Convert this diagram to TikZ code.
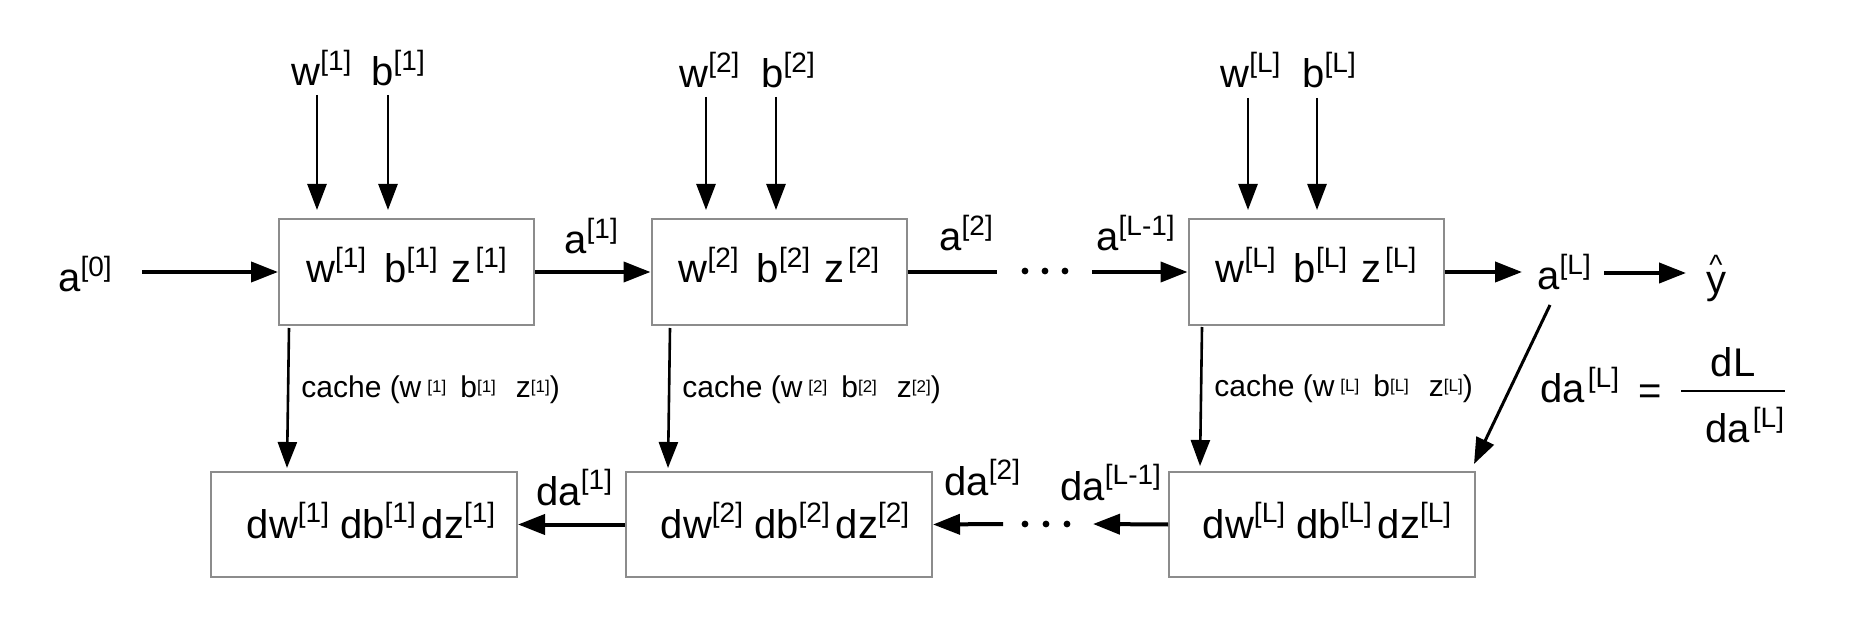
\documentclass[tikz,border=0pt]{standalone}
\usepackage{fontspec}
\setmainfont{Liberation Sans}
\usepackage{graphicx}
\usetikzlibrary{arrows.meta}
\definecolor{boxgray}{RGB}{140,140,140}
\newcommand\sps[1]{\raisebox{7.8pt}{\fontsize{14}{14}\selectfont #1}}
\newcommand\csps[1]{\raisebox{2.9pt}{\fontsize{8.5}{8.5}\selectfont #1}}
\tikzset{
  fbox/.style={draw=boxgray, line width=1pt, minimum width=127.5pt, minimum height=53pt, inner sep=0pt},
  gbox/.style={draw=boxgray, line width=1pt, minimum width=153pt, minimum height=52.5pt, inner sep=0pt},
  txt/.style={inner sep=0pt, font=\fontsize{20}{24}\selectfont},
  ctxt/.style={inner sep=0pt, font=\fontsize{15}{18}\selectfont},
  thinarr/.style={line width=1.3pt, -{Triangle[length=13pt,width=9.5pt]}},
  thickarr/.style={line width=2pt, -{Triangle[length=13.5pt,width=10pt]}},
  thickline/.style={line width=2pt},
  dotfill/.style={fill=black},
}
\begin{document}
\begin{tikzpicture}[x=0.5pt,y=-0.5pt]
\path[use as bounding box, fill=white] (0,0) rectangle (1866,624);

% forward boxes
\node[fbox] (f1) at (406.5,272) {};
\node[fbox] (f2) at (779,272) {};
\node[fbox] (fL) at (1316,272) {};
% backward boxes
\node[gbox] (g1) at (364,524.5) {};
\node[gbox] (g2) at (779,524.5) {};
\node[gbox] (gL) at (1322,524.5) {};

% box texts
\node[txt, anchor=base] (t1) at ([yshift=-5.5pt]f1.center) {w\sps{[1]}\hspace{9pt}b\sps{[1]}\hspace{7pt}z\hspace{2pt}\sps{[1]}};
\node[txt, anchor=base] (t2) at ([yshift=-5.5pt]f2.center) {w\sps{[2]}\hspace{9pt}b\sps{[2]}\hspace{7pt}z\hspace{2pt}\sps{[2]}};
\node[txt, anchor=base] (tL) at ([yshift=-5.5pt]fL.center) {w\sps{[L]}\hspace{9pt}b\sps{[L]}\hspace{7pt}z\hspace{2pt}\sps{[L]}};
\node[txt, anchor=base] (u1) at ([xshift=3.5pt,yshift=-6.75pt]g1.center) {dw\sps{[1]} db\sps{[1]}\hspace{3pt}dz\sps{[1]}};
\node[txt, anchor=base] (u2) at ([xshift=3pt,yshift=-6.75pt]g2.center) {dw\sps{[2]} db\sps{[2]}\hspace{3pt}dz\sps{[2]}};
\node[txt, anchor=base] (uL) at ([xshift=2.5pt,yshift=-6.75pt]gL.center) {dw\sps{[L]} db\sps{[L]}\hspace{3pt}dz\sps{[L]}};

% top parameter labels
\node[txt, anchor=base west] (lw1) at (291,86) {w\sps{[1]}};
\node[txt, anchor=base west] (lb1) at (371,86) {b\sps{[1]}};
\node[txt, anchor=base west] (lw2) at (679,88) {w\sps{[2]}};
\node[txt, anchor=base west] (lb2) at (761,88) {b\sps{[2]}};
\node[txt, anchor=base west] (lwL) at (1220,88) {w\sps{[L]}};
\node[txt, anchor=base west] (lbL) at (1302,88) {b\sps{[L]}};

\coordinate (pw1) at (317,95);
\coordinate (pb1) at (388,95);
\coordinate (pw2) at (706,97);
\coordinate (pb2) at (776,97);
\coordinate (pwL) at (1248,98);
\coordinate (pbL) at (1317,98);
\foreach \p/\b in {pw1/f1,pb1/f1,pw2/f2,pb2/f2,pwL/fL,pbL/fL}
  \draw[thinarr, shorten >=4pt] (\p) -- (\p |- \b.north);

% forward activations
\node[txt, anchor=base west] (a0) at (58,292) {a\sps{[0]}};
\node[txt, anchor=base west] (a1) at (564,254) {a\sps{[1]}};
\node[txt, anchor=base west] (a2) at (939,251) {a\sps{[2]}};
\node[txt, anchor=base west] (aL1) at (1096,251) {a\sps{[L-1]}};
\node[txt, anchor=base west] (aL) at (1537,290) {a\sps{[L]}};
\node[txt, anchor=base] (yh) at (1716,294) {\makebox[0pt][l]{\hspace{1.7pt}\raisebox{9.5pt}{\fontsize{14}{14}\selectfont\textasciicircum}}y};

\coordinate (a0e) at (142,272);
\draw[thickarr] (a0e) -- (f1.west);
\draw[thickarr] (f1.east) -- (f2.west);
\coordinate (l2e) at (997,272);
\draw[thickline] (f2.east) -- (l2e);
\coordinate (dt1) at (1045,271);
\foreach \dx in {-20,0,20} \fill[dotfill] ([xshift=\dx*0.5pt]dt1) circle (1.7pt);
\coordinate (l3s) at (1092,272);
\draw[thickarr] (l3s) -- (fL.west);
\coordinate (aLin) at (1522,272);
\draw[thickarr] (fL.east) -- (aLin);
\coordinate (ys) at (1604,273);
\coordinate (ye) at (1686,273);
\draw[thickarr] (ys) -- (ye);

% caches
\coordinate (c1s) at (289,328);
\coordinate (c1e) at (287,468);
\coordinate (c2s) at (670,328);
\coordinate (c2e) at (668,468);
\coordinate (cLs) at (1202,327);
\coordinate (cLe) at (1200,466);
\draw[thinarr] (c1s) -- (c1e);
\draw[thinarr] (c2s) -- (c2e);
\draw[thinarr] (cLs) -- (cLe);
\node[ctxt, anchor=base west] (k1) at (301,398) {cache (w\hspace{3pt}\csps{[1]}\hspace{7pt}b\csps{[1]}\hspace{10pt}z\csps{[1]})};
\node[ctxt, anchor=base west] (k2) at (682,398) {cache (w\hspace{3pt}\csps{[2]}\hspace{7pt}b\csps{[2]}\hspace{10pt}z\csps{[2]})};
\node[ctxt, anchor=base west] (kL) at (1214,397) {cache (w\hspace{3pt}\csps{[L]}\hspace{7pt}b\csps{[L]}\hspace{10pt}z\csps{[L]})};

% diagonal
\coordinate (dgs) at (1550,305);
\coordinate (dge) at (1474,464);
\draw[line width=1.5pt, -{Triangle[length=13pt,width=9.5pt]}] (dgs) -- (dge);

% derivative formula
\node[txt, anchor=base west] (daL) at (1540,403) {da\hspace{1.5pt}\sps{[L]}};
\node[txt, anchor=base] (eq) at (1650,405) {=};
\coordinate (fb1) at (1681,391);
\coordinate (fb2) at (1785,391);
\draw[line width=1pt] (fb1) -- (fb2);
\node[txt, anchor=base] (num) at (1733,377) {dL};
\node[txt, anchor=base west] (den) at (1705,443) {da\hspace{1.5pt}\sps{[L]}};

% backward flow
\draw[thickarr] (g2.west) -- (g1.east);
\node[txt, anchor=base west] (da1) at (536,505) {da\sps{[1]}};
\coordinate (m2s) at (1003,524);
\draw[thickarr] (m2s) -- (g2.east);
\node[txt, anchor=base west] (da2) at (944,495) {da\sps{[2]}};
\coordinate (dt2) at (1046,524);
\foreach \dx in {-21,0,21} \fill[dotfill] ([xshift=\dx*0.5pt]dt2) circle (1.7pt);
\coordinate (m3e) at (1093,524);
\draw[thickarr] (gL.west) -- (m3e);
\node[txt, anchor=base west] (daL1) at (1060,500) {da\sps{[L-1]}};
\end{tikzpicture}
\end{document}
